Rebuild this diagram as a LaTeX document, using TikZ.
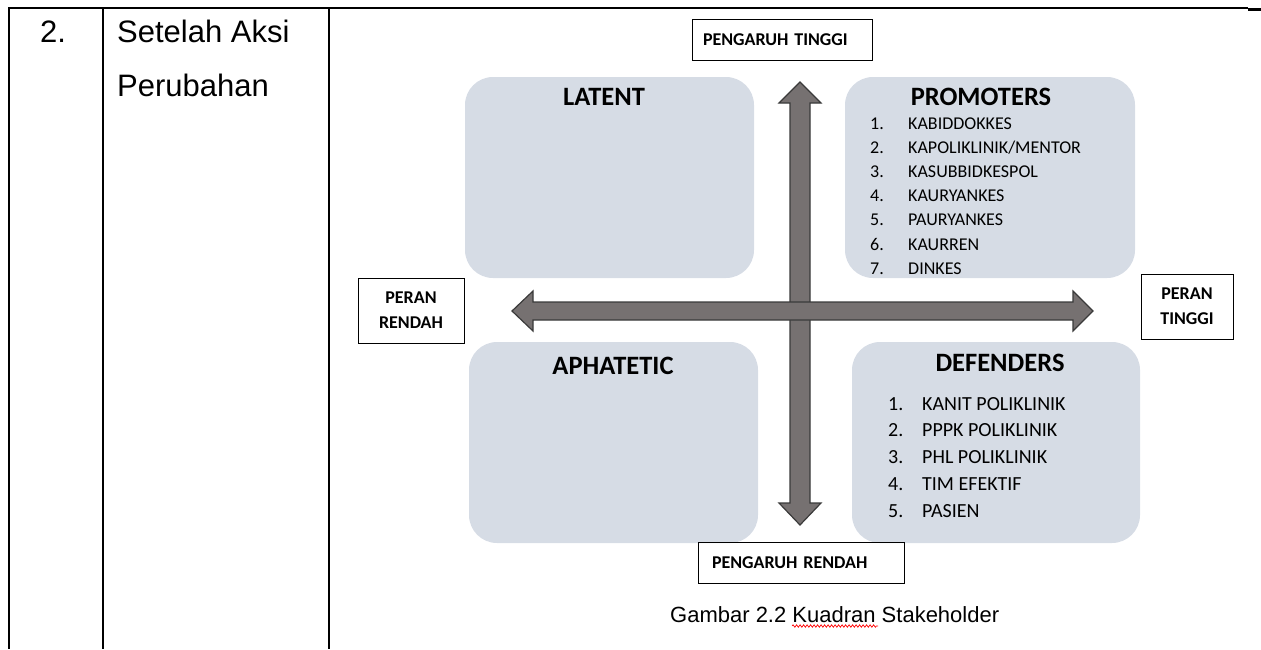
\documentclass[tikz,border=0pt]{standalone}
\usepackage{fontspec}
\setmainfont{Carlito}
\newfontfamily\arialfont{Liberation Sans}
\usetikzlibrary{positioning,decorations.pathmorphing}

\definecolor{kotak}{HTML}{D6DCE5}
\definecolor{panah}{HTML}{767171}
\definecolor{tepi}{HTML}{3A3A3A}

\tikzset{
  kuadran/.style={fill=kotak, rounded corners=28pt, inner sep=0pt,
    minimum height=201pt},
  judul/.style={font=\bfseries\fontsize{26.5}{29}\selectfont, inner sep=0pt},
  kotaklabel/.style={draw, line width=0.9pt, inner sep=0pt,
    font=\bfseries\fontsize{18}{25}\selectfont},
  butir/.style={anchor=base west, inner sep=0pt},
  panahsumbu/.style={fill=panah, draw=tepi, line width=1.2pt, line join=miter},
  garistabel/.style={line width=2pt},
}

\begin{document}
\begin{tikzpicture}[x=1pt, y=-1pt]

\useasboundingbox (0,0) rectangle (1261,649);

% Garis tabel
\draw[garistabel] (8,8) -- (1248,8);
\draw[line width=3pt] (1248,9) -- (1261,9);
\draw[garistabel] (9,7) -- (9,649);
\draw[garistabel] (102.5,7) -- (102.5,649);
\draw[garistabel] (329,7) -- (329,649);

% Isi kolom kiri
\node[anchor=base west, inner sep=0pt, font=\arialfont\fontsize{31}{36}\selectfont]
  (nomor) at (40,42) {2.};
\node[anchor=base west, inner sep=0pt, font=\arialfont\fontsize{31}{36}\selectfont]
  (tahap1) at (117,42) {Setelah Aksi};
\node[anchor=base west, inner sep=0pt, font=\arialfont\fontsize{31}{36}\selectfont]
  (tahap2) at (117,96) {Perubahan};

% Empat kuadran
\node[kuadran, minimum width=289pt] (latent) at (609.5,177.5) {};
\node[kuadran, minimum width=290pt] (promoters) at (990,177.5) {};
\node[kuadran, minimum width=289pt] (aphatetic) at (613.5,442.5) {};
\node[kuadran, minimum width=288pt] (defenders) at (996,442.5) {};

% Judul kuadran
\node[judul] (tlatent) at (604,97) {LATENT};
\node[judul] (tpromoters) at (981,97) {PROMOTERS};
\node[judul] (taphatetic) at (613,366) {APHATETIC};
\node[judul] (tdefenders) at (1000,363) {DEFENDERS};

% Daftar promoters
\foreach \t [count=\n, evaluate=\n as \yy using 129+24.2*(\n-1)] in
  {KABIDDOKKES, KAPOLIKLINIK/MENTOR, KASUBBIDKESPOL, KAURYANKES,
   PAURYANKES, KAURREN, DINKES}
{
  \node[butir, font=\fontsize{18}{20}\selectfont] (pn\n) at (870,\yy) {\n.};
  \node[butir, font=\fontsize{18}{20}\selectfont] (pt\n) at (908,\yy) {\t};
}

% Daftar defenders
\foreach \t [count=\n, evaluate=\n as \yy using 410+26.8*(\n-1)] in
  {KANIT POLIKLINIK, PPPK POLIKLINIK, PHL POLIKLINIK, TIM EFEKTIF, PASIEN}
{
  \node[butir, font=\fontsize{20}{22}\selectfont] (dn\n) at (888,\yy) {\n.};
  \node[butir, font=\fontsize{20}{22}\selectfont] (dt\n) at (922,\yy) {\t};
}

% Sumbu pengaruh (vertikal)
\coordinate (O) at (800,311);
\draw[panahsumbu] (800,82) -- (821,103) -- (810,103) -- (810,503) -- (821,503)
  -- (800,525) -- (779,503) -- (790,503) -- (790,103) -- (779,103) -- cycle;

% Sumbu peran (horizontal)
\draw[panahsumbu] (512,311) -- (533,291) -- (533,302) -- (1073,302) -- (1073,291)
  -- (1093,311) -- (1073,331) -- (1073,320) -- (533,320) -- (533,331) -- cycle;

% Label sumbu
\node[kotaklabel, minimum width=180pt, minimum height=41pt, text width=158pt,
  inner xsep=11pt, align=left] (ptinggi) at (782,39.5) {PENGARUH TINGGI};
\node[kotaklabel, minimum width=206pt, minimum height=41pt, text width=178pt,
  inner xsep=14pt, align=left] (prendah) at (801,562.5) {PENGARUH RENDAH};
\node[kotaklabel, minimum width=106pt, minimum height=65pt, align=center]
  (rrendah) at (411,310.5) {PERAN\\RENDAH};
\node[kotaklabel, minimum width=92pt, minimum height=65pt, align=center]
  (rtinggi) at (1187,306.5) {PERAN\\TINGGI};

% Keterangan gambar
\node[anchor=base west, inner sep=0pt, font=\arialfont\fontsize{22}{26}\selectfont]
  (caption) at (670,622) {Gambar 2.2 Kuadran Stakeholder};
\draw[red, line width=0.7pt, decorate,
  decoration={snake, amplitude=1.2pt, segment length=3.5pt}] (792,626) -- (878,626);

\end{tikzpicture}
\end{document}
